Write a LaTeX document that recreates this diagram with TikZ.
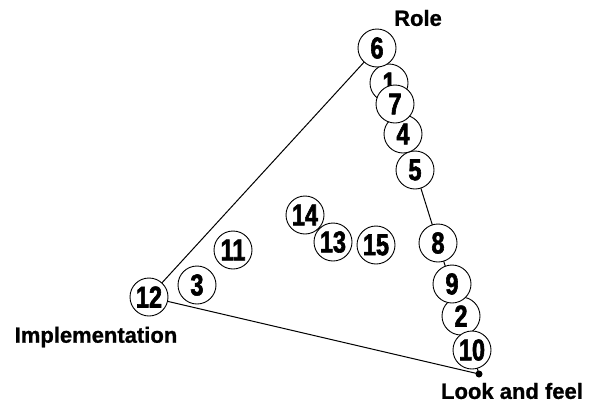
\documentclass[tikz,border=0pt]{standalone}
\usepackage{fontspec}
\setmainfont{Liberation Sans}
\newfontfamily\numfont[FakeStretch=0.78, FakeBold=2]{Liberation Sans}
\newfontfamily\labelfont[FakeBold=1]{Liberation Sans}
\usetikzlibrary{backgrounds}
\tikzset{
  num/.style={circle, draw, fill=white, inner sep=0pt, minimum size=38pt, line width=0.9pt,
    font=\numfont\bfseries\fontsize{30}{30}\selectfont},
  axislabel/.style={inner sep=0pt, font=\labelfont\bfseries\fontsize{22}{24}\selectfont},
  edge/.style={line width=1pt}
}
\begin{document}
\begin{tikzpicture}[x=1pt,y=-1pt]
\useasboundingbox (0,0) rectangle (592,410);
% nodes, in drawing order (later ones lie on top)
\node[num] (n5)  at (415,170) {5};
\node[num] (n4)  at (403,134) {4};
\node[num] (n1)  at (389,83)  {1};
\node[num] (n6)  at (377,48)  {6};
\node[num] (n7)  at (395,104) {7};
\node[num] (n2)  at (461,316) {2};
\node[num] (n9)  at (452,284) {9};
\node[num] (n10) at (472,350) {10};
\node[num] (n8)  at (438,243) {8};
\node[num] (n14) at (305,215) {14};
\node[num] (n13) at (333,242) {13};
\node[num] (n15) at (376,245) {15};
\node[num] (n11) at (233,250) {11};
\node[num] (n3)  at (197,285) {3};
\node[num] (n12) at (149,297) {12};
\coordinate (dot) at (479,374);
\fill (dot) circle (3.5pt);
% labels
\node[axislabel] (role) at (418,18) {Role};
\node[axislabel] (impl) at (96,337) {Implementation};
\node[axislabel] (look) at (512,391) {Look and feel};
% triangle sides beneath the circles
\begin{scope}[on background layer]
\draw[edge] (n6.center) -- (n12.center);
\draw[edge] (n12.center) -- (dot);
\draw[edge] (n6.center) -- (dot);
\end{scope}
\end{tikzpicture}
\end{document}
